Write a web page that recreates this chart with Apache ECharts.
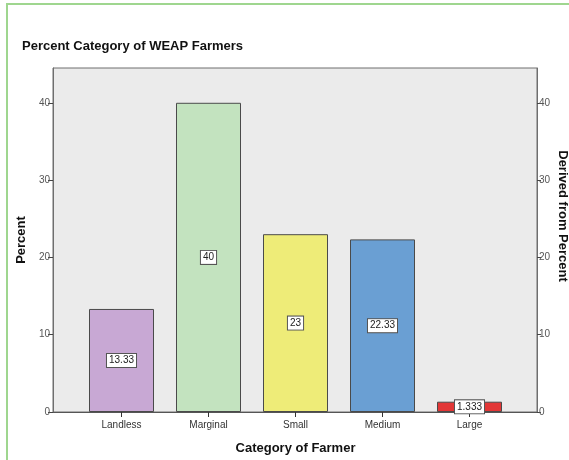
<!DOCTYPE html>
<html>
<head>
<meta charset="utf-8">
<script src="https://cdn.jsdelivr.net/npm/echarts@6/dist/echarts.min.js"></script>
<style>
  html, body { margin: 0; padding: 0; background: #ffffff; }
  #chart { width: 569px; height: 460px; }
</style>
</head>
<body>
<div id="chart"></div>
<script>
// Farmer categories and their share of WEAP farmers (percent)
const categories = ['Landless', 'Marginal', 'Small', 'Medium', 'Large'];
const percentValues = [13.33, 40, 23, 22.33, 1.333];
const barColors = ['#c8a8d4', '#c3e3bf', '#eeec78', '#6a9fd3', '#e23636'];
const yTicks = [0, 10, 20, 30, 40];

const Y_MAX = 44.5;
const FONT = '"Liberation Sans", Arial, sans-serif';

const chart = echarts.init(document.getElementById('chart'), null, { renderer: 'canvas' });

const option = {
  backgroundColor: '#ffffff',
  animation: false,
  title: {
    text: 'Percent Category of WEAP Farmers',
    left: 17,
    top: 35,
    textStyle: { fontFamily: FONT, fontSize: 13, fontWeight: 'bold', color: '#111' }
  },
  grid: [
    // frame: shaded plot area carrying both percent axes
    { left: 53, right: 32, top: 68, bottom: 48, show: true,
      backgroundColor: '#ebebeb', borderColor: '#6e6e6e', borderWidth: 1 },
    // inner band for the category bars
    { left: 78, right: 56, top: 68, bottom: 48 }
  ],
  xAxis: [
    { gridIndex: 0, type: 'value', min: 0, max: 1,
      axisLine: { show: true, onZero: false, lineStyle: { color: '#555', width: 1 } },
      axisTick: { show: false }, axisLabel: { show: false }, splitLine: { show: false } },
    { gridIndex: 1, type: 'category', data: categories,
      axisLine: { show: false },
      axisTick: { show: true, alignWithLabel: true, length: 5, lineStyle: { color: '#333' } },
      axisLabel: { fontFamily: FONT, fontSize: 10, color: '#333', margin: 8 },
      name: 'Category of Farmer', nameLocation: 'middle', nameGap: 30,
      nameTextStyle: { fontFamily: FONT, fontSize: 13, fontWeight: 'bold', color: '#111' } }
  ],
  yAxis: [
    { gridIndex: 0, type: 'value', min: 0, max: Y_MAX, interval: 10, position: 'left',
      axisLine: { show: true, lineStyle: { color: '#6e6e6e' } },
      axisTick: { show: true, length: 5, customValues: yTicks, lineStyle: { color: '#444' } },
      axisLabel: { customValues: yTicks, fontFamily: FONT, fontSize: 10, color: '#555', margin: 3 },
      splitLine: { show: false },
      name: 'Percent', nameLocation: 'middle', nameGap: 20,
      nameTextStyle: { fontFamily: FONT, fontSize: 13, fontWeight: 'bold', color: '#111' } },
    { gridIndex: 0, type: 'value', min: 0, max: Y_MAX, interval: 10, position: 'right',
      axisLine: { show: true, lineStyle: { color: '#6e6e6e' } },
      axisTick: { show: true, length: 4, customValues: yTicks, lineStyle: { color: '#444' } },
      axisLabel: { customValues: yTicks, fontFamily: FONT, fontSize: 10, color: '#555', margin: 2 },
      splitLine: { show: false } },
    { gridIndex: 1, type: 'value', min: 0, max: Y_MAX, show: false, splitLine: { show: false } }
  ],
  graphic: [
    { type: 'rect', silent: true, z: -1,
      shape: { x: 7, y: 4, width: 620, height: 520 },
      style: { fill: 'none', stroke: '#9fd68f', lineWidth: 2 } },
    { type: 'text', silent: true, x: 563, y: 216, rotation: -Math.PI / 2,
      style: { text: 'Derived from Percent', fontFamily: FONT, fontSize: 13, fontWeight: 'bold',
        fill: '#111', align: 'center', verticalAlign: 'middle' } }
  ],
  series: [{
    type: 'bar',
    xAxisIndex: 1,
    yAxisIndex: 2,
    barWidth: 65,
    data: percentValues.map((v, i) => ({
      value: v,
      itemStyle: { color: barColors[i], borderColor: '#4a4a4a', borderWidth: 1 }
    })),
    label: {
      show: true,
      position: 'inside',
      formatter: p => String(p.value),
      fontFamily: FONT, fontSize: 10, color: '#222',
      backgroundColor: '#ffffff', borderColor: '#555', borderWidth: 1,
      padding: [2, 2, 1, 2]
    }
  }]
};

chart.setOption(option);
</script>
</body>
</html>
